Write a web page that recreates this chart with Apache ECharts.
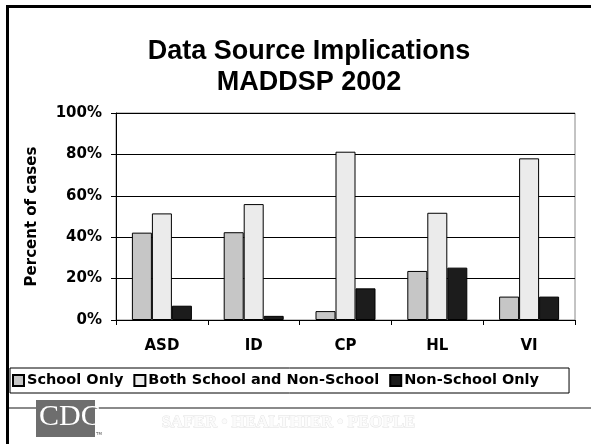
<!DOCTYPE html>
<html>
<head>
<meta charset="utf-8">
<script src="https://cdn.jsdelivr.net/npm/echarts@6/dist/echarts.min.js"></script>
<style>
  html, body { margin: 0; padding: 0; background: #fff; }
  #chart { width: 591px; height: 444px; }
</style>
</head>
<body>
<div id="chart"></div>
<script>
// Share of cases by data source, per condition
const categories = ['ASD', 'ID', 'CP', 'HL', 'VI'];
const schoolOnly = [42.2, 42.4, 4.3, 23.7, 11.3];
const bothSources = [51.5, 56.0, 81.3, 51.8, 78.1];
const nonSchoolOnly = [6.9, 2.0, 15.3, 25.3, 11.3];
const seriesNames = ['School Only', 'Both School and Non-School', 'Non-School Only'];
const yTicks = [0, 20, 40, 60, 80, 100];

const axisFont = 'DejaVu Sans';
const chart = echarts.init(document.getElementById('chart'), null, { renderer: 'canvas' });

function barSeries(name, data, color) {
  return {
    name: name,
    type: 'bar',
    data: data,
    barWidth: 20,
    barGap: '0%',
    itemStyle: { color: color, borderColor: '#000', borderWidth: 1 },
    emphasis: { disabled: true }
  };
}

chart.setOption({
  animation: false,
  backgroundColor: '#fff',
  title: {
    text: 'Data Source Implications\nMADDSP 2002',
    left: 304,
    top: 31,
    textAlign: 'center',
    textStyle: {
      fontFamily: 'Liberation Sans',
      fontWeight: 'bold',
      fontSize: 27,
      lineHeight: 31,
      color: '#000'
    }
  },
  grid: {
    left: 116, right: 16, top: 113, bottom: 124,
    show: true, borderColor: '#888', borderWidth: 1
  },
  legend: {
    data: seriesNames,
    left: 10,
    top: 368,
    padding: [5, 30, 5, 2],
    itemWidth: 11,
    itemHeight: 11,
    itemGap: 10,
    borderColor: '#000',
    borderWidth: 1,
    icon: 'rect',
    textStyle: { fontFamily: axisFont, fontWeight: 'bold', fontSize: 14.5, color: '#000', padding: [0, 0, 0, -2] }
  },
  xAxis: {
    type: 'category',
    data: categories,
    axisLine: { lineStyle: { color: '#000', width: 1 } },
    axisTick: { show: true, length: 5, inside: false, lineStyle: { color: '#000' } },
    axisLabel: { margin: 19, fontFamily: axisFont, fontWeight: 'bold', fontSize: 15, color: '#000' }
  },
  yAxis: {
    type: 'value',
    min: 0,
    max: 100,
    interval: 20,
    name: 'Percent of cases',
    nameLocation: 'middle',
    nameRotate: 90,
    nameGap: 76,
    nameTextStyle: { fontFamily: axisFont, fontWeight: 'bold', fontSize: 15, color: '#000' },
    axisLine: { show: true, lineStyle: { color: '#000', width: 1 } },
    axisTick: { show: true, length: 5, lineStyle: { color: '#000' } },
    splitLine: { show: true, lineStyle: { color: '#000', width: 1 } },
    axisLabel: {
      margin: 14,
      fontFamily: axisFont, fontWeight: 'bold', fontSize: 15, color: '#000',
      formatter: function (v) { return yTicks.indexOf(v) >= 0 ? v + '%' : ''; }
    }
  },
  series: [
    barSeries(seriesNames[0], schoolOnly, '#c6c6c6'),
    barSeries(seriesNames[1], bothSources, '#ebebeb'),
    barSeries(seriesNames[2], nonSchoolOnly, '#1c1c1c')
  ],
  graphic: [
    // slide frame
    { type: 'rect', shape: { x: 6, y: 5, width: 585, height: 3 }, style: { fill: '#000' }, silent: true },
    { type: 'rect', shape: { x: 6, y: 5, width: 3, height: 439 }, style: { fill: '#000' }, silent: true },
    // footer rule
    { type: 'rect', shape: { x: 9, y: 407, width: 582, height: 2 }, style: { fill: '#8a8a8a' }, silent: true },
    // CDC logo block
    { type: 'rect', shape: { x: 36, y: 400, width: 59, height: 37 }, style: { fill: '#6e6e6e' }, silent: true, z: 10 },
    {
      type: 'text', left: 39, top: 402, z: 11, silent: true,
      style: { text: 'CDC', fill: '#fff', font: '30px "Liberation Serif"' }
    },
    {
      type: 'text', left: 96, top: 432, z: 11, silent: true,
      style: { text: 'TM', fill: '#555', font: '4px "DejaVu Sans"' }
    },
    // tagline
    {
      type: 'text', left: 161, top: 414, z: 11, silent: true,
      style: {
        text: 'SAFER \u2022 HEALTHIER \u2022 PEOPLE',
        fill: '#fbfbfb', stroke: '#e2e2e2', lineWidth: 0.8,
        font: 'bold 17px "Liberation Serif"'
      }
    }
  ]
});
</script>
</body>
</html>
